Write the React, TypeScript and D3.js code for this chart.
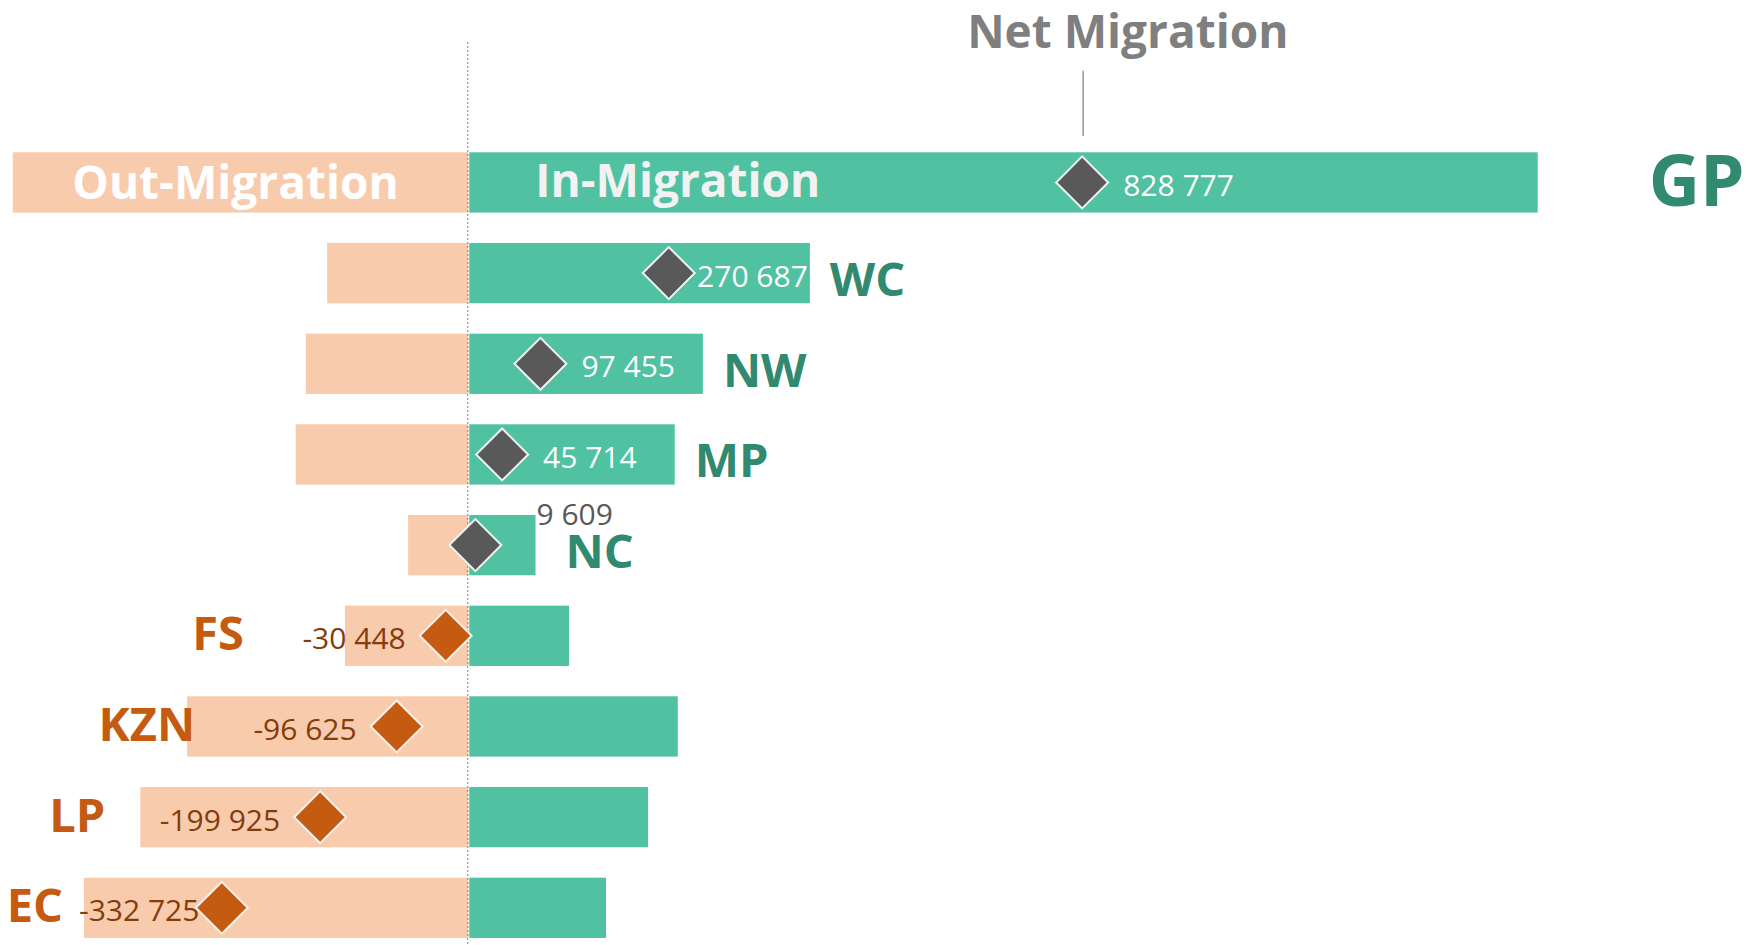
import React from "react";
import * as d3 from "d3";

// provinces, top to bottom
const regions = ["GP", "WC", "NW", "MP", "NC", "FS", "KZN", "LP", "EC"];
// out-migration (people leaving)
const outMigration = [615000, 190500, 219300, 233000, 81200, 166500, 379500, 442700, 518700];
// in-migration (people arriving)
const inMigration = [1443777, 461187, 316755, 278714, 90809, 136052, 282875, 242775, 185975];
// net migration shown on the diamonds
const netMigration = [828777, 270687, 97455, 45714, 9609, -30448, -96625, -199925, -332725];

const WIDTH = 1754;
const HEIGHT = 945;
const FONT = "'Open Sans', 'Noto Sans', sans-serif";

const GREEN = "#50C2A1";
const PEACH = "#F8CBAD";
const DARK_GREEN = "#318A6F";
const ORANGE = "#C55A11";
const BROWN = "#843C0C";
const GREY = "#595959";

// hand placed region labels in the original (offset from bar end)
const LABEL_DX: Record<string, number> = { GP: 111, NC: 30, FS: -101, KZN: 8, LP: -35, EC: -21 };

// space as thousands separator, plain hyphen for minus
const fmt = (v: number) => d3.format(",d")(v).replace(/,/g, " ").replace("\u2212", "-");

// rough width of a 30px Open Sans number label
const textWidth = (s: string) =>
  s.split("").reduce((w, c) => w + (c === " " ? 0.26 : c === "-" ? 0.32 : 0.572), 0) * 30;

const App = () => {
  const x = d3.scaleLinear().domain([-630000, 1450000]).range([1.6, 1542.3]);
  const y = d3
    .scaleBand()
    .domain(regions)
    .range([137.1, 137.1 + 9 * 90.67])
    .paddingInner(0.335)
    .paddingOuter(0.1675);
  const bw = y.bandwidth();
  const x0 = x(0);
  const diamond = d3.symbol(d3.symbolSquare, 1350)();

  return (
    <svg
      width={WIDTH}
      height={HEIGHT}
      style={{ position: "absolute", left: 0, top: 0, display: "block", background: "#fff" }}
      fontFamily={FONT}
    >
      {regions.map((r, i) => {
        const top = y(r) as number;
        return (
          <g key={r}>
            <rect x={x(-outMigration[i])} y={top} width={x0 - x(-outMigration[i])} height={bw} fill={PEACH} />
            <rect x={x0 + 1} y={top} width={x(inMigration[i]) - x0 - 1} height={bw} fill={GREEN} />
          </g>
        );
      })}

      {/* zero line */}
      <line x1={x0 - 0.5} x2={x0 - 0.5} y1={42} y2={HEIGHT} stroke="#7F7F7F" strokeWidth={1} strokeDasharray="2 2" />

      {/* header labels inside the GP bar */}
      <text
        x={(x(-outMigration[0]) + x0) / 2 - 5}
        y={(y("GP") as number) + bw / 2 + 17}
        textAnchor="middle"
        fontSize={46}
        fontWeight={700}
        fill="#FFFFFF"
      >
        Out-Migration
      </text>
      <text
        x={x0 + 67}
        y={(y("GP") as number) + bw / 2 + 14.5}
        fontSize={46}
        fontWeight={700}
        fill="#F2F2F2"
      >
        In-Migration
      </text>

      {/* net migration callout */}
      <text x={x(netMigration[0]) - 115} y={48} fontSize={46} fontWeight={700} fill="#7F7F7F">
        Net Migration
      </text>
      <line
        x1={x(netMigration[0]) + 1}
        x2={x(netMigration[0]) + 1}
        y1={70.7}
        y2={136}
        stroke="#7F7F7F"
        strokeWidth={1.2}
      />

      {regions.map((r, i) => {
        const top = y(r) as number;
        const cy = top + bw / 2;
        const net = netMigration[i];
        const label = fmt(net);
        const w = textWidth(label);
        const pos = net >= 0;
        const big = r === "GP";
        const dx = LABEL_DX[r] ?? (pos ? 20 : -20);
        const regionX = pos ? x(inMigration[i]) + dx : x(-outMigration[i]) + dx;

        let lx: number;
        let ly = cy + 13.5;
        let anchor = "start";
        let fill = pos ? "#FFFFFF" : BROWN;
        if (pos) {
          lx = x(net) + 41;
          if (lx + w > x(inMigration[i]) - 2) lx = x(inMigration[i]) - 2 - w;
          if (lx < x(net) + 27) {
            // no room in the bar: sit above and to the right of it
            lx = x(inMigration[i]) + 1;
            ly = top + 10;
            fill = GREY;
          }
        } else {
          // left of the diamond, but clear of the region label
          lx = Math.max(x(net) - 40, regionX + 16 + w);
          anchor = "end";
        }

        return (
          <g key={r}>
            <path
              d={diamond}
              transform={`translate(${x(net)},${cy}) rotate(45)`}
              fill={pos ? GREY : ORANGE}
              stroke="#F2F2F2"
              strokeWidth={2}
            />
            <text x={lx} y={ly} textAnchor={anchor} fontSize={30} fill={fill}>
              {label}
            </text>
            <text
              x={regionX}
              y={cy + (big ? 24 : pos ? 23 : 14.5)}
              textAnchor={pos ? "start" : "end"}
              fontSize={big ? 71 : 47}
              fontWeight={700}
              fill={pos ? DARK_GREEN : ORANGE}
            >
              {r}
            </text>
          </g>
        );
      })}
    </svg>
  );
};

export default App;
